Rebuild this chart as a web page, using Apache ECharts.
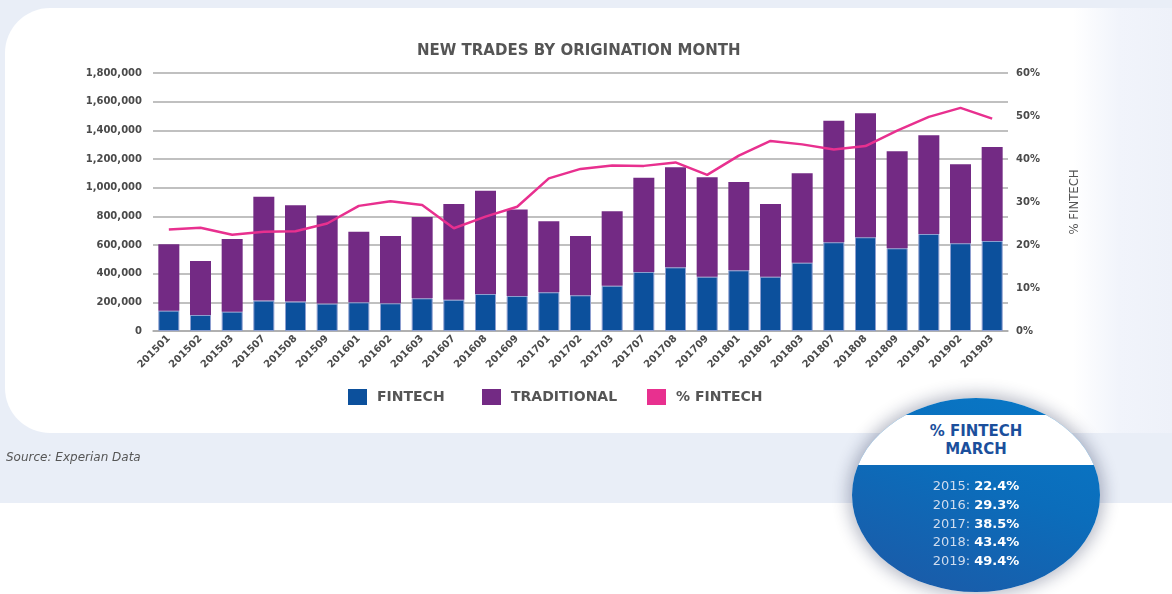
<!DOCTYPE html>
<html>
<head>
<meta charset="utf-8">
<script src="https://cdn.jsdelivr.net/npm/echarts@6/dist/echarts.min.js"></script>
<style>
  html, body { margin:0; padding:0; width:1172px; height:594px; overflow:hidden; background:#ffffff; font-family:"DejaVu Sans", sans-serif; }
  #bg { position:absolute; left:0; top:0; width:1172px; height:503px; background:#e9eef7; }
  #card { position:absolute; left:5px; top:8px; width:1167px; height:425px; border-radius:45px 0 0 45px;
          background:linear-gradient(to right, #ffffff 0%, #ffffff 91.5%, #f1f4fb 95.5%, #eef1f9 100%); }
  #chart { position:absolute; left:0; top:0; width:1172px; height:594px; }
  #source { position:absolute; left:6px; top:450px; font-size:12px; font-style:italic; color:#555; }
  #badge { position:absolute; left:852px; top:398px; width:248px; height:194px; border-radius:50%; overflow:hidden;
           background:linear-gradient(200deg, #0879c8 0%, #0b6dbb 45%, #1d58a5 100%);
           box-shadow:0 0 16px 4px rgba(20,30,70,0.3); z-index:5; }
  #band { position:absolute; left:0; top:17px; width:248px; height:50px; background:#ffffff; text-align:center;
          color:#1b4f9c; font-weight:bold; font-size:15px; line-height:18px; padding-top:7px; box-sizing:border-box; }
  #lines { position:absolute; left:0; top:79px; width:248px; text-align:center; font-size:13px; line-height:18.8px; color:#cfdcee; }
  #lines b { color:#ffffff; }
</style>
</head>
<body>
<div id="bg"></div>
<div id="card"></div>
<div id="chart"></div>
<div id="source">Source: Experian Data</div>
<div id="badge">
  <div id="band">% FINTECH<br>MARCH</div>
  <div id="lines"></div>
</div>
<script>
const categories = ['201501','201502','201503','201507','201508','201509','201601','201602','201603','201607','201608','201609','201701','201702','201703','201707','201708','201709','201801','201802','201803','201807','201808','201809','201901','201902','201903'];
const fintech = [142000,112000,135000,212000,205000,191000,200000,193000,228000,218000,258000,244000,270000,249000,316000,412000,444000,379000,423000,379000,477000,619000,654000,577000,677000,612000,628000];
const traditional = [463000,376000,507000,725000,672000,614000,493000,470000,567000,668000,721000,603000,495000,414000,519000,658000,698000,693000,617000,507000,623000,848000,865000,677000,688000,551000,656000];
const pctFintech = [23.6,24.0,22.4,23.1,23.2,25.0,29.1,30.2,29.3,23.9,26.6,28.9,35.5,37.7,38.5,38.4,39.2,36.3,40.8,44.2,43.4,42.2,43.0,46.6,49.8,51.9,49.4];
const marchYears = ['2015','2016','2017','2018','2019'];
const marchPct = ['22.4%','29.3%','38.5%','43.4%','49.4%'];

document.getElementById('lines').innerHTML = marchYears.map((y,i)=> y + ': <b>' + marchPct[i] + '</b>').join('<br>');

const chart = echarts.init(document.getElementById('chart'), null, {renderer:'canvas'});
const lblColor = '#4a4a4a';
const gridColor = '#ababab';
const legendText = {color:'#555', fontSize:14, fontWeight:'bold', fontFamily:'DejaVu Sans', padding:[0,0,0,5]};
const legendBase = { top:389, padding:0, itemWidth:19, itemHeight:16, itemGap:10, icon:'rect', textStyle:legendText, selectedMode:false,
                     itemStyle:{borderWidth:0} };
chart.setOption({
  backgroundColor:'transparent',
  animation:false,
  title:{ text:'NEW TRADES BY ORIGINATION MONTH', left:412, top:39,
          textStyle:{color:'#555', fontSize:15, fontWeight:'bold', fontFamily:'DejaVu Sans'} },
  legend:[
    Object.assign({ left:348, data:['FINTECH'] }, legendBase),
    Object.assign({ left:482, data:['TRADITIONAL'] }, legendBase),
    Object.assign({ left:647, data:['% FINTECH'] }, legendBase)
  ],
  grid:{ left:153, right:164, top:73, bottom:263 },
  xAxis:{ type:'category', data:categories,
    axisLine:{lineStyle:{color:gridColor, width:1.5}}, axisTick:{show:false},
    axisLabel:{interval:0, rotate:45, margin:6, color:lblColor, fontSize:10, fontWeight:'bold', fontFamily:'DejaVu Sans'} },
  yAxis:[
    { type:'value', min:0, max:1800000, interval:200000,
      axisLine:{show:false}, axisTick:{show:false},
      splitLine:{lineStyle:{color:gridColor, width:1.5}},
      axisLabel:{margin:11, color:lblColor, fontSize:10, fontWeight:'bold', fontFamily:'DejaVu Sans',
        formatter:v=>v.toLocaleString('en-US')} },
    { type:'value', min:0, max:60, interval:10, position:'right',
      name:'% FINTECH', nameLocation:'middle', nameGap:60, nameRotate:90,
      nameTextStyle:{color:'#555', fontSize:13, fontFamily:'DejaVu Sans Condensed'},
      axisLine:{show:false}, axisTick:{show:false}, splitLine:{show:false},
      axisLabel:{margin:8, color:lblColor, fontSize:10, fontWeight:'bold', fontFamily:'DejaVu Sans', formatter:'{value}%'} }
  ],
  series:[
    { name:'FINTECH', type:'bar', stack:'total', data:fintech, barWidth:21,
      itemStyle:{color:'#0c509c', borderColor:'#8d9fd0', borderWidth:1} },
    { name:'TRADITIONAL', type:'bar', stack:'total', data:traditional, barWidth:21,
      itemStyle:{color:'#732a84'} },
    { name:'% FINTECH', type:'line', yAxisIndex:1, data:pctFintech, symbol:'none',
      itemStyle:{color:'#e8308f'}, lineStyle:{color:'#e8308f', width:2.5}, z:5 }
  ]
});
</script>
</body>
</html>
